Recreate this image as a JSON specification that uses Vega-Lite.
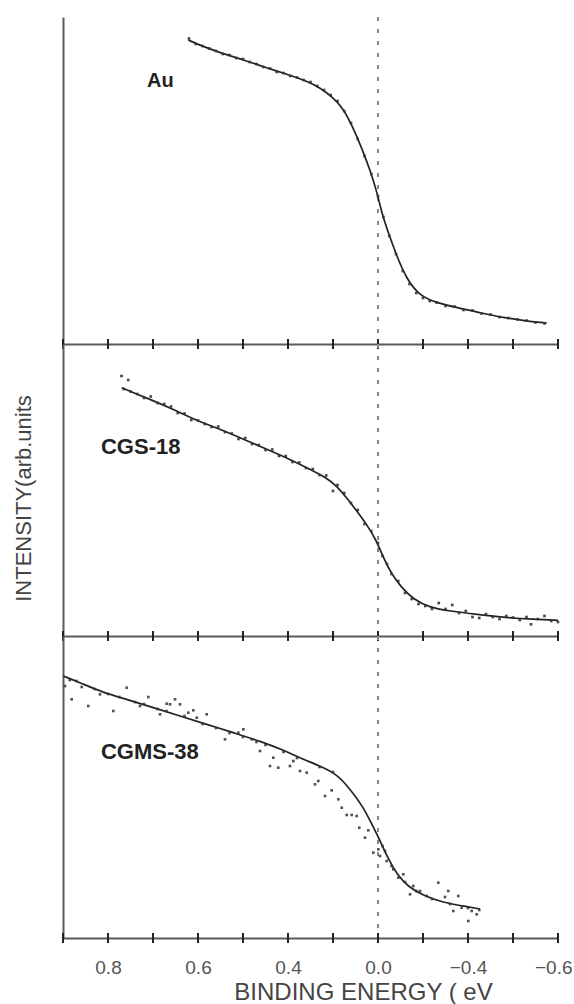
{
  "$schema": "https://vega.github.io/schema/vega-lite/v6.json",
  "padding": {"left": 12, "top": 16, "right": 0, "bottom": 0},
  "spacing": 0,
  "bounds": "flush",
  "config": {
    "view": {"stroke": null},
    "font": "Liberation Sans",
    "axis": {"grid": false, "domainColor": "#5a5a5a", "domainWidth": 2}
  },
  "vconcat": [
    {
      "width": 495, "height": 327,
      "layer": [
        {
          "data": {"values": [{"e": 0}]},
          "mark": {"type": "rule", "strokeDash": [4, 8], "color": "#888", "strokeWidth": 2},
          "encoding": {
            "x": {"field": "e", "type": "quantitative", "scale": {"domain": [0.7, -0.4], "nice": false, "zero": false},
              "axis": {"orient": "bottom", "ticks": false, "labels": false, "title": null, "domain": true}}
          }
        },
        {
          "data": {"values": [{"t": 0.7}, {"t": 0.6}, {"t": 0.5}, {"t": 0.4}, {"t": 0.3}, {"t": 0.2}, {"t": 0.1}, {"t": 0}, {"t": -0.1}, {"t": -0.2}, {"t": -0.3}, {"t": -0.4}]},
          "mark": {"type": "rule", "color": "#222", "strokeWidth": 2, "yOffset": -5, "y2Offset": 5},
          "encoding": {
            "x": {"field": "t", "type": "quantitative"},
            "y": {"datum": 0, "type": "quantitative"},
            "y2": {"datum": 0}
          }
        },
        {
          "data": {"values": [
            {"e": 0.4216, "i": 304}, {"e": 0.3956, "i": 298.7}, {"e": 0.3511, "i": 291.3}, {"e": 0.2918, "i": 283}, {"e": 0.2473, "i": 276.3}, {"e": 0.2029, "i": 269.7}, {"e": 0.1584, "i": 263}, {"e": 0.1289, "i": 256.3}, {"e": 0.0993, "i": 246.3}, {"e": 0.0771, "i": 235.5}, {"e": 0.0549, "i": 216}, {"e": 0.0362, "i": 196}, {"e": 0.0178, "i": 174}, {"e": 0.0029, "i": 153}, {"e": -0.0082, "i": 131.3}, {"e": -0.0229, "i": 111.3}, {"e": -0.0416, "i": 88}, {"e": -0.0638, "i": 64.7}, {"e": -0.0933, "i": 48}, {"e": -0.1304, "i": 41.3}, {"e": -0.1749, "i": 36.3}, {"e": -0.2267, "i": 31.3}, {"e": -0.2784, "i": 26.3}, {"e": -0.3304, "i": 23}, {"e": -0.3749, "i": 21}
          ]},
          "mark": {"type": "line", "color": "#222", "strokeWidth": 1.7, "interpolate": "basis"},
          "encoding": {
            "x": {"field": "e", "type": "quantitative"},
            "y": {"field": "i", "type": "quantitative", "scale": {"domain": [0, 327], "nice": false}, "axis": {"ticks": false, "labels": false, "title": null, "domain": true}}
          }
        },
        {
          "data": {"values": [
            {"e": 0.42, "i": 305.5}, {"e": 0.405, "i": 300}, {"e": 0.39, "i": 298}, {"e": 0.375, "i": 295.5}, {"e": 0.36, "i": 293}, {"e": 0.345, "i": 290}, {"e": 0.33, "i": 289}, {"e": 0.315, "i": 286}, {"e": 0.3, "i": 285}, {"e": 0.285, "i": 282}, {"e": 0.27, "i": 280}, {"e": 0.255, "i": 277}, {"e": 0.24, "i": 275.5}, {"e": 0.225, "i": 272}, {"e": 0.21, "i": 271}, {"e": 0.195, "i": 268}, {"e": 0.18, "i": 266.5}, {"e": 0.165, "i": 264}, {"e": 0.15, "i": 262}, {"e": 0.135, "i": 258}, {"e": 0.12, "i": 254}, {"e": 0.105, "i": 249}, {"e": 0.09, "i": 243}, {"e": 0.075, "i": 233}, {"e": 0.06, "i": 221}, {"e": 0.045, "i": 205}, {"e": 0.03, "i": 188}, {"e": 0.015, "i": 170}, {"e": 0.0, "i": 148}, {"e": -0.012, "i": 127}, {"e": -0.025, "i": 108}, {"e": -0.04, "i": 90}, {"e": -0.055, "i": 73}, {"e": -0.07, "i": 60}, {"e": -0.085, "i": 51}, {"e": -0.1, "i": 46}, {"e": -0.115, "i": 43}, {"e": -0.13, "i": 41.5}, {"e": -0.15, "i": 38}, {"e": -0.17, "i": 37.5}, {"e": -0.19, "i": 34}, {"e": -0.21, "i": 33.5}, {"e": -0.23, "i": 30.5}, {"e": -0.25, "i": 29.5}, {"e": -0.27, "i": 27}, {"e": -0.29, "i": 26}, {"e": -0.31, "i": 24.5}, {"e": -0.33, "i": 23.5}, {"e": -0.35, "i": 21.5}, {"e": -0.37, "i": 20.5}
          ]},
          "mark": {"type": "point", "shape": "square", "filled": true, "size": 7, "color": "#333", "opacity": 0.9},
          "encoding": {
            "x": {"field": "e", "type": "quantitative"},
            "y": {"field": "i", "type": "quantitative"}
          }
        },
        {
          "data": {"values": [{"e": 0.5133, "i": 263, "label": "Au"}]},
          "mark": {"type": "text", "align": "left", "baseline": "middle", "fontWeight": "bold", "fontSize": 20, "color": "#222"},
          "encoding": {
            "x": {"field": "e", "type": "quantitative"},
            "y": {"field": "i", "type": "quantitative"},
            "text": {"field": "label"}
          }
        }
      ]
    },
    {
      "width": 495, "height": 292,
      "layer": [
        {
          "data": {"values": [{"e": 0}]},
          "mark": {"type": "rule", "strokeDash": [4, 8], "color": "#888", "strokeWidth": 2},
          "encoding": {
            "x": {"field": "e", "type": "quantitative", "scale": {"domain": [0.7, -0.4], "nice": false, "zero": false},
              "axis": {"orient": "bottom", "ticks": false, "labels": false, "title": null, "domain": true}}
          }
        },
        {
          "data": {"values": [{"t": 0.7}, {"t": 0.6}, {"t": 0.5}, {"t": 0.4}, {"t": 0.3}, {"t": 0.2}, {"t": 0.1}, {"t": 0}, {"t": -0.1}, {"t": -0.2}, {"t": -0.3}, {"t": -0.4}]},
          "mark": {"type": "rule", "color": "#222", "strokeWidth": 2, "yOffset": -5, "y2Offset": 5},
          "encoding": {
            "x": {"field": "t", "type": "quantitative"},
            "y": {"datum": 0, "type": "quantitative"},
            "y2": {"datum": 0}
          }
        },
        {
          "data": {"values": [
            {"e": 0.5696, "i": 248.3}, {"e": 0.5438, "i": 243.3}, {"e": 0.5067, "i": 236.7}, {"e": 0.4549, "i": 226.7}, {"e": 0.4104, "i": 216.7}, {"e": 0.3584, "i": 208.3}, {"e": 0.3067, "i": 198.3}, {"e": 0.2549, "i": 188.3}, {"e": 0.2029, "i": 178.3}, {"e": 0.1584, "i": 168.3}, {"e": 0.114, "i": 158.3}, {"e": 0.0918, "i": 150}, {"e": 0.0696, "i": 138.3}, {"e": 0.0473, "i": 125}, {"e": 0.0251, "i": 111.7}, {"e": 0.0029, "i": 95}, {"e": -0.0118, "i": 78.3}, {"e": -0.0304, "i": 61.7}, {"e": -0.0527, "i": 48.3}, {"e": -0.0784, "i": 36.7}, {"e": -0.1156, "i": 28.3}, {"e": -0.16, "i": 25}, {"e": -0.2193, "i": 21.7}, {"e": -0.286, "i": 18.3}, {"e": -0.3451, "i": 16.7}, {"e": -0.4, "i": 15.7}
          ]},
          "mark": {"type": "line", "color": "#222", "strokeWidth": 1.7, "interpolate": "basis"},
          "encoding": {
            "x": {"field": "e", "type": "quantitative"},
            "y": {"field": "i", "type": "quantitative", "scale": {"domain": [0, 292], "nice": false}, "axis": {"ticks": false, "labels": false, "title": "INTENSITY(arb.units", "titleFontSize": 22, "titleFontWeight": "normal", "titleColor": "#444", "titlePadding": 28, "titleY": 154, "domain": true}}
          }
        },
        {
          "data": {"values": [
            {"e": 0.57, "i": 260}, {"e": 0.555, "i": 256}, {"e": 0.565, "i": 247}, {"e": 0.55, "i": 244.5}, {"e": 0.535, "i": 242}, {"e": 0.52, "i": 238}, {"e": 0.505, "i": 239.5}, {"e": 0.49, "i": 233}, {"e": 0.475, "i": 232}, {"e": 0.46, "i": 229.5}, {"e": 0.445, "i": 223}, {"e": 0.43, "i": 222.5}, {"e": 0.415, "i": 216}, {"e": 0.4, "i": 215.5}, {"e": 0.385, "i": 212}, {"e": 0.37, "i": 209}, {"e": 0.355, "i": 209.5}, {"e": 0.34, "i": 204}, {"e": 0.325, "i": 202.5}, {"e": 0.31, "i": 197}, {"e": 0.295, "i": 198}, {"e": 0.28, "i": 192}, {"e": 0.265, "i": 191}, {"e": 0.25, "i": 186}, {"e": 0.235, "i": 186.5}, {"e": 0.22, "i": 180}, {"e": 0.205, "i": 180}, {"e": 0.19, "i": 174}, {"e": 0.175, "i": 173.5}, {"e": 0.16, "i": 168}, {"e": 0.145, "i": 167}, {"e": 0.13, "i": 161}, {"e": 0.115, "i": 160.5}, {"e": 0.1, "i": 145}, {"e": 0.09, "i": 151}, {"e": 0.075, "i": 143}, {"e": 0.06, "i": 133}, {"e": 0.045, "i": 126}, {"e": 0.03, "i": 112}, {"e": 0.015, "i": 105}, {"e": 0.0, "i": 93}, {"e": -0.01, "i": 80}, {"e": -0.02, "i": 72}, {"e": -0.03, "i": 62}, {"e": -0.045, "i": 55}, {"e": -0.06, "i": 43}, {"e": -0.075, "i": 37}, {"e": -0.09, "i": 32}, {"e": -0.105, "i": 30}, {"e": -0.12, "i": 27}, {"e": -0.135, "i": 33}, {"e": -0.15, "i": 27}, {"e": -0.165, "i": 31}, {"e": -0.18, "i": 23}, {"e": -0.195, "i": 25}, {"e": -0.21, "i": 19}, {"e": -0.225, "i": 18}, {"e": -0.24, "i": 22}, {"e": -0.255, "i": 19}, {"e": -0.27, "i": 17}, {"e": -0.285, "i": 20}, {"e": -0.3, "i": 18.5}, {"e": -0.315, "i": 16}, {"e": -0.33, "i": 19}, {"e": -0.34, "i": 11.7}, {"e": -0.355, "i": 17}, {"e": -0.37, "i": 20}, {"e": -0.385, "i": 15}, {"e": -0.4, "i": 14}
          ]},
          "mark": {"type": "point", "shape": "square", "filled": true, "size": 7, "color": "#333", "opacity": 0.9},
          "encoding": {
            "x": {"field": "e", "type": "quantitative"},
            "y": {"field": "i", "type": "quantitative"}
          }
        },
        {
          "data": {"values": [{"e": 0.6156, "i": 189, "label": "CGS-18"}]},
          "mark": {"type": "text", "align": "left", "baseline": "middle", "fontWeight": "bold", "fontSize": 22, "color": "#222"},
          "encoding": {
            "x": {"field": "e", "type": "quantitative"},
            "y": {"field": "i", "type": "quantitative"},
            "text": {"field": "label"}
          }
        }
      ]
    },
    {
      "width": 495, "height": 302,
      "layer": [
        {
          "data": {"values": [{"e": 0}]},
          "mark": {"type": "rule", "strokeDash": [4, 8], "color": "#888", "strokeWidth": 2},
          "encoding": {
            "x": {"field": "e", "type": "quantitative", "scale": {"domain": [0.7, -0.4], "nice": false, "zero": false},
              "axis": {"orient": "bottom", "ticks": false, "domain": true, "values": [0.6, 0.4, 0.2, 0, -0.2, -0.4],
                "labelExpr": "datum.value > 0.5 ? '0.8' : datum.value > 0.3 ? '0.6' : datum.value > 0.1 ? '0.4' : datum.value > -0.1 ? '0.0' : datum.value > -0.3 ? '\u22120.4' : '\u22120.6'",
                "labelFontSize": 19, "labelColor": "#555", "labelPadding": 20, "labelFlush": 2, "labelFlushOffset": 14, "labelOverlap": false,
                "title": "BINDING ENERGY ( eV", "titleFontSize": 24, "titleFontWeight": "normal", "titleColor": "#444", "titlePadding": 3, "titleAnchor": "middle", "titleX": 300}}
          }
        },
        {
          "data": {"values": [{"t": 0.7}, {"t": 0.6}, {"t": 0.5}, {"t": 0.4}, {"t": 0.3}, {"t": 0.2}, {"t": 0.1}, {"t": 0}, {"t": -0.1}, {"t": -0.2}, {"t": -0.3}, {"t": -0.4}]},
          "mark": {"type": "rule", "color": "#222", "strokeWidth": 2, "yOffset": -5, "y2Offset": 5},
          "encoding": {
            "x": {"field": "t", "type": "quantitative"},
            "y": {"datum": 0, "type": "quantitative"},
            "y2": {"datum": 0}
          }
        },
        {
          "data": {"values": [
            {"e": 0.6993, "i": 262}, {"e": 0.6622, "i": 255.3}, {"e": 0.6104, "i": 245.3}, {"e": 0.5584, "i": 238.7}, {"e": 0.4993, "i": 230.3}, {"e": 0.44, "i": 222}, {"e": 0.3807, "i": 213.7}, {"e": 0.3216, "i": 205.3}, {"e": 0.2622, "i": 197}, {"e": 0.2029, "i": 186.5}, {"e": 0.1733, "i": 180}, {"e": 0.1289, "i": 172}, {"e": 0.0918, "i": 164}, {"e": 0.0622, "i": 149}, {"e": 0.0327, "i": 131}, {"e": 0.014, "i": 114}, {"e": 0.0, "i": 102}, {"e": -0.0193, "i": 82}, {"e": -0.0416, "i": 64}, {"e": -0.0673, "i": 51}, {"e": -0.1007, "i": 42.5}, {"e": -0.1451, "i": 35.3}, {"e": -0.1896, "i": 32}, {"e": -0.2267, "i": 29}
          ]},
          "mark": {"type": "line", "color": "#222", "strokeWidth": 1.7, "interpolate": "basis"},
          "encoding": {
            "x": {"field": "e", "type": "quantitative"},
            "y": {"field": "i", "type": "quantitative", "scale": {"domain": [0, 302], "nice": false}, "axis": {"ticks": false, "labels": false, "title": null, "domain": true}}
          }
        },
        {
          "data": {"values": [
            {"e": 0.6956, "i": 252}, {"e": 0.6807, "i": 238.7}, {"e": 0.6584, "i": 251}, {"e": 0.6438, "i": 232}, {"e": 0.6178, "i": 243.7}, {"e": 0.5882, "i": 227}, {"e": 0.5584, "i": 250.3}, {"e": 0.5289, "i": 232}, {"e": 0.5104, "i": 241}, {"e": 0.4844, "i": 223.7}, {"e": 0.4696, "i": 234.3}, {"e": 0.4622, "i": 233.7}, {"e": 0.4511, "i": 238.7}, {"e": 0.44, "i": 233.7}, {"e": 0.4216, "i": 225.3}, {"e": 0.4104, "i": 227.7}, {"e": 0.4029, "i": 220.3}, {"e": 0.3807, "i": 223.7}, {"e": 0.34, "i": 198.7}, {"e": 0.3104, "i": 205.3}, {"e": 0.2993, "i": 208.7}, {"e": 0.2807, "i": 198.7}, {"e": 0.2622, "i": 187}, {"e": 0.24, "i": 172}, {"e": 0.2327, "i": 180.3}, {"e": 0.2216, "i": 170.3}, {"e": 0.1956, "i": 172}, {"e": 0.1882, "i": 177}, {"e": 0.1733, "i": 167}, {"e": 0.1584, "i": 165.3},
            {"e": 0.14, "i": 153.7}, {"e": 0.1327, "i": 157}, {"e": 0.1178, "i": 142}, {"e": 0.1029, "i": 147.7}, {"e": 0.0882, "i": 138.7}, {"e": 0.0807, "i": 130.3}, {"e": 0.0696, "i": 123}, {"e": 0.0584, "i": 123}, {"e": 0.0473, "i": 122}, {"e": 0.0416, "i": 110.3}, {"e": 0.0289, "i": 100.3}, {"e": 0.0216, "i": 107.7}, {"e": 0.0104, "i": 85.3}, {"e": -0.0007, "i": 88.7}, {"e": -0.0044, "i": 82}, {"e": -0.0156, "i": 87}, {"e": -0.0193, "i": 77}, {"e": -0.034, "i": 68.7}, {"e": -0.0451, "i": 60.3}, {"e": -0.0562, "i": 63.7}, {"e": -0.0711, "i": 43.7}, {"e": -0.0784, "i": 52}, {"e": -0.0933, "i": 47}, {"e": -0.1082, "i": 42}, {"e": -0.134, "i": 55.3}, {"e": -0.1489, "i": 41}, {"e": -0.1562, "i": 47}, {"e": -0.1673, "i": 27}, {"e": -0.1784, "i": 42}, {"e": -0.186, "i": 30.3}, {"e": -0.2007, "i": 17}, {"e": -0.2082, "i": 27}, {"e": -0.2193, "i": 23.7},
            {"e": 0.685, "i": 258}, {"e": 0.67, "i": 257}, {"e": 0.63, "i": 249}, {"e": 0.6, "i": 244}, {"e": 0.575, "i": 241}, {"e": 0.54, "i": 236}, {"e": 0.52, "i": 234}, {"e": 0.49, "i": 229}, {"e": 0.47, "i": 227}, {"e": 0.43, "i": 222}, {"e": 0.39, "i": 214}, {"e": 0.36, "i": 210}, {"e": 0.33, "i": 205}, {"e": 0.3, "i": 201}, {"e": 0.27, "i": 196}, {"e": 0.25, "i": 193}, {"e": 0.21, "i": 186}, {"e": 0.18, "i": 180}, {"e": 0.13, "i": 171}, {"e": 0.1, "i": 166}, {"e": -0.01, "i": 92}, {"e": -0.03, "i": 72}, {"e": -0.06, "i": 56}, {"e": -0.085, "i": 47}, {"e": -0.12, "i": 39}, {"e": -0.16, "i": 34}, {"e": -0.2, "i": 30}, {"e": -0.225, "i": 28}
          ]},
          "mark": {"type": "point", "shape": "square", "filled": true, "size": 7, "color": "#333", "opacity": 0.85},
          "encoding": {
            "x": {"field": "e", "type": "quantitative"},
            "y": {"field": "i", "type": "quantitative"}
          }
        },
        {
          "data": {"values": [{"e": 0.6156, "i": 186, "label": "CGMS-38"}]},
          "mark": {"type": "text", "align": "left", "baseline": "middle", "fontWeight": "bold", "fontSize": 22, "color": "#222"},
          "encoding": {
            "x": {"field": "e", "type": "quantitative"},
            "y": {"field": "i", "type": "quantitative"},
            "text": {"field": "label"}
          }
        }
      ]
    }
  ]
}
